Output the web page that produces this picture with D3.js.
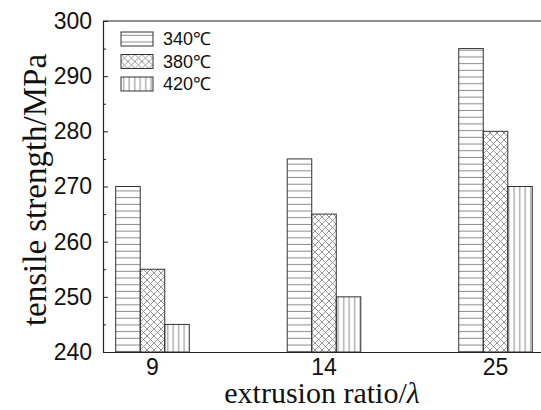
<!DOCTYPE html>
<html>
<head>
<meta charset="utf-8">
<script src="https://cdn.jsdelivr.net/npm/d3@7"></script>
<style>
  body { margin: 0; background: #fff; }
  svg { display: block; }
  .sans { font-family: "Liberation Sans", Arial, sans-serif; }
  .serif { font-family: "Liberation Serif", "Times New Roman", serif; }
</style>
</head>
<body>
<div id="chart"></div>
<script>
// Data
const ratios = ["9", "14", "25"];
const temps = ["340℃", "380℃", "420℃"];
const s340 = [270, 275, 295];
const s380 = [255, 265, 280];
const s420 = [245, 250, 270];
const yMajor = [240, 250, 260, 270, 280, 290, 300];
const yMinor = [245, 255, 265, 275, 285, 295];

const series = [s340, s380, s420];
const patterns = ["hstripe", "cross", "vstripe"];

const width = 541, height = 410;
const plotLeft = 103, plotTop = 21, plotBottom = 352, plotRight = 545;

const svg = d3.select("#chart")
    .append("svg")
    .attr("width", width)
    .attr("height", height);

// Fill patterns
const defs = svg.append("defs");

const ph = defs.append("pattern")
    .attr("id", "hstripe")
    .attr("patternUnits", "userSpaceOnUse")
    .attr("width", 8).attr("height", 6.7);
ph.append("line")
    .attr("x1", 0).attr("x2", 8).attr("y1", 3.3).attr("y2", 3.3)
    .attr("stroke", "#8a8a8a").attr("stroke-width", 1);

const pc = defs.append("pattern")
    .attr("id", "cross")
    .attr("patternUnits", "userSpaceOnUse")
    .attr("width", 7).attr("height", 7);
pc.append("path")
    .attr("d", "M0,0L7,7M7,0L0,7")
    .attr("stroke", "#8a8a8a").attr("stroke-width", 0.9).attr("fill", "none");

const pv = defs.append("pattern")
    .attr("id", "vstripe")
    .attr("patternUnits", "userSpaceOnUse")
    .attr("width", 5.5).attr("height", 8);
pv.append("line")
    .attr("y1", 0).attr("y2", 8).attr("x1", 2.7).attr("x2", 2.7)
    .attr("stroke", "#8a8a8a").attr("stroke-width", 1);

// Scales
const x = d3.scaleBand()
    .domain(ratios)
    .range([plotLeft, plotRight])
    .paddingInner(0.571)
    .paddingOuter(0.074);

const xSub = d3.scaleBand()
    .domain(temps)
    .range([0, x.bandwidth()]);

const y = d3.scaleLinear()
    .domain([240, 300])
    .range([plotBottom, plotTop]);

// Bars
temps.forEach((t, i) => {
    svg.append("g")
        .selectAll("rect")
        .data(series[i])
        .enter()
        .append("rect")
        .attr("x", (d, j) => x(ratios[j]) + xSub(t))
        .attr("y", d => y(d))
        .attr("width", xSub.bandwidth())
        .attr("height", d => y(240) - y(d))
        .attr("fill", "url(#" + patterns[i] + ")")
        .attr("stroke", "#333")
        .attr("stroke-width", 1);
});

// Frame top line
svg.append("line")
    .attr("x1", plotLeft).attr("x2", plotRight)
    .attr("y1", plotTop).attr("y2", plotTop)
    .attr("stroke", "#222").attr("stroke-width", 1.2);

// Y axis (inward ticks)
const yAxis = svg.append("g")
    .attr("transform", `translate(${plotLeft},0)`)
    .call(d3.axisLeft(y).tickValues(yMajor).tickSizeInner(-5).tickSizeOuter(0).tickPadding(11));
yAxis.attr("font-family", null);
yAxis.select(".domain").attr("stroke", "#222").attr("stroke-width", 1.2);
yAxis.selectAll(".tick line").attr("stroke", "#222");
yAxis.selectAll("text")
    .attr("class", "sans")
    .attr("font-size", 23)
    .attr("fill", "#111");

const yMinorAxis = svg.append("g")
    .attr("transform", `translate(${plotLeft},0)`)
    .call(d3.axisLeft(y).tickValues(yMinor).tickSizeInner(-3).tickSizeOuter(0).tickFormat(""));
yMinorAxis.select(".domain").remove();
yMinorAxis.selectAll(".tick line").attr("stroke", "#222");

// X axis
const xAxis = svg.append("g")
    .attr("transform", `translate(0,${plotBottom})`)
    .call(d3.axisBottom(x).tickSize(0).tickPadding(7));
xAxis.attr("font-family", null);
xAxis.select(".domain").attr("stroke", "#222").attr("stroke-width", 1.2);
xAxis.selectAll("text")
    .attr("class", "sans")
    .attr("font-size", 23)
    .attr("fill", "#111");

// Axis titles
const xTitle = svg.append("text")
    .attr("class", "serif")
    .attr("x", 322)
    .attr("y", 403)
    .attr("text-anchor", "middle")
    .attr("font-size", 30)
    .attr("fill", "#111");
xTitle.append("tspan").text("extrusion ratio/");
xTitle.append("tspan").attr("font-style", "italic").text("λ");

svg.append("text")
    .attr("class", "serif")
    .attr("transform", "translate(46,190) rotate(-90)")
    .attr("text-anchor", "middle")
    .attr("font-size", 33)
    .attr("fill", "#111")
    .text("tensile strength/MPa");

// Legend
const legend = svg.append("g")
    .selectAll("g")
    .data(temps)
    .enter()
    .append("g")
    .attr("transform", (d, i) => `translate(121,${32 + i * 22.5})`);

legend.append("rect")
    .attr("width", 32)
    .attr("height", 14)
    .attr("fill", (d, i) => "url(#" + patterns[i] + ")")
    .attr("stroke", "#333")
    .attr("stroke-width", 1);

legend.append("text")
    .attr("class", "sans")
    .attr("x", 42)
    .attr("y", 7)
    .attr("dy", "0.36em")
    .attr("font-size", 18)
    .attr("fill", "#111")
    .text(d => d);
</script>
</body>
</html>
